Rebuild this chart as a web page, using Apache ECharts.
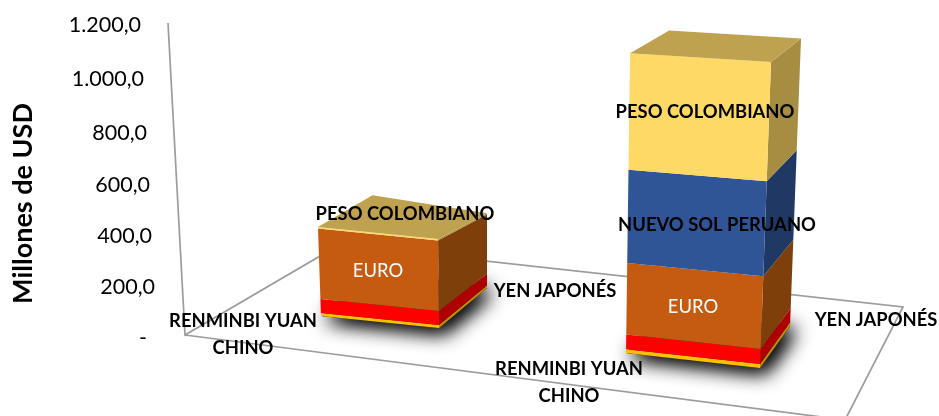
<!DOCTYPE html>
<html><head><meta charset="utf-8">
<style>html,body{margin:0;padding:0;background:#fff}#c{width:939px;height:416px}</style>
<script src="https://cdn.jsdelivr.net/npm/echarts@6/dist/echarts.min.js"></script>
</head><body><div id="c"></div>
<script>
// ---- data ----
const categories = ['Grupo A', 'Grupo B'];
const tickLabels = ['-', '200,0', '400,0', '600,0', '800,0', '1.000,0', '1.200,0'];
const seriesNames = ['RENMINBI YUAN CHINO', 'YEN JAPONÉS', 'EURO', 'NUEVO SOL PERUANO', 'PESO COLOMBIANO'];
const renminbi = [10, 13];
const yen = [47, 50];
const euro = [235, 243];
const nuevoSol = [0, 317];
const peso = [5, 397];

// ---- styling / projection ----
const stacks = [renminbi, yen, euro, nuevoSol, peso];
const frontColors = ['#FFC000', '#FF0000', '#C55A11', '#2F5597', '#FFD966'];
const sideColors = ['#BF9000', '#AE0000', '#7F3F0B', '#1F3864', '#A68D42'];
const topColor = '#BFA24F';
const DEPTH_SCALE = 1.15;
// box corners relative to the category centre and the axis zero
const boxes = [
  { fl: [-58.5, -22, -0.034, 1], fr: [59.5, -10, -0.011, 1], br: [107.5, -50, 0, 0.84], bl: [-3.5, -68, -0.04, 0.84] },
  { fl: [-68.5, 15, 0.0133, 0.98], fr: [65.5, 30, 0.036, 1], br: [95.5, -12, 0.036, 0.94], bl: [-29.5, -26, 0.0133, 0.92] }
];
const labelOffsets = [
  [[-136.5, -3], [175.5, -47], [-1.5, -67], null, [25.5, -124]],
  [[-125.5, 44.5], [181.5, -18], [-1.5, -31], [22.5, -113], [10.5, -226]]
];
const labelFonts = ['bold', 'bold', 'normal', 'bold', 'bold'];
const labelFills = ['#000', '#000', '#fff', '#000', '#000'];
const labelSizes = [18.4, 18.4, 18.4, 18.4, 18.4];
const tickPad = [[0, 8], [2, 0], [5, 3], [7, 5], [7, 8], [4, 11], [0, 14]];

function pt(corner, cx, y0, h) {
  return [cx + corner[0] + corner[2] * h, y0 + corner[1] - corner[3] * h];
}
function makeRender(si) {
  return function (params, api) {
    const cat = api.value(0), val = api.value(1);
    const cx = api.coord([cat, 0])[0], y0 = api.coord([cat, 0])[1];
    let below = 0;
    for (let i = 0; i < si; i++) below += stacks[i][cat];
    const hOf = v => (y0 - api.coord([cat, v])[1]) * DEPTH_SCALE;
    const h0 = hOf(below), h1 = hOf(below + val);
    const b = boxes[cat];
    const children = [];
    const poly = (pts, fill, extra) => children.push({
      type: 'polygon', shape: { points: pts }, style: Object.assign({ fill: fill }, extra || {}), z2: extra && extra.shadowBlur ? 1 : 5 + si
    });
    if (si === 0) {
      const base = [pt(b.fl, cx, y0, 0), pt(b.fr, cx, y0, 0), pt(b.br, cx, y0, 0), pt(b.bl, cx, y0, 0)];
      const shadow = { shadowBlur: 20, shadowColor: 'rgba(0,0,0,0.9)', shadowOffsetX: 5, shadowOffsetY: 4 };
      poly(base, '#333', shadow);
      poly(base, '#333', shadow);
    }
    if (val > 0) {
      poly([pt(b.fr, cx, y0, h0), pt(b.br, cx, y0, h0), pt(b.br, cx, y0, h1), pt(b.fr, cx, y0, h1)], sideColors[si]);
      poly([pt(b.fl, cx, y0, h0), pt(b.fr, cx, y0, h0), pt(b.fr, cx, y0, h1), pt(b.fl, cx, y0, h1)], frontColors[si]);
      if (si === stacks.length - 1) {
        poly([pt(b.fl, cx, y0, h1), pt(b.fr, cx, y0, h1), pt(b.br, cx, y0, h1), pt(b.bl, cx, y0, h1)], topColor);
      }
      const off = labelOffsets[cat][si];
      if (off) {
        const name = seriesNames[si].replace('BI YUAN CHINO', 'BI YUAN\nCHINO');
        children.push({
          type: 'text', z2: 100,
          style: {
            text: name, x: cx + off[0], y: y0 + off[1], align: 'center', verticalAlign: 'middle',
            fill: labelFills[si], lineHeight: 27,
            font: labelFonts[si] + ' ' + labelSizes[si] + 'px Lato'
          }
        });
      }
    }
    return { type: 'group', children: children };
  };
}
const rich = {};
tickPad.forEach((p, i) => { rich['t' + i] = { padding: [p[0], p[1], 0, 0], fontFamily: 'Lato', fontSize: 21.5, color: '#000' }; });

const chart = echarts.init(document.getElementById('c'));
const floorLine = { stroke: '#9c9c9c', lineWidth: 1.7, fill: null };
chart.setOption({
  animation: false,
  backgroundColor: '#fff',
  grid: { left: 222, width: 630, top: 25, height: 313, outerBoundsMode: 'none' },
  xAxis: { type: 'category', data: categories, show: false },
  yAxis: {
    type: 'value', min: 0, max: 1200, interval: 200,
    name: 'Millones de USD', nameLocation: 'middle', nameGap: 185,
    nameTextStyle: { fontFamily: 'Lato', fontWeight: 'bold', fontSize: 27, color: '#000', padding: [0, 44, 0, 0] },
    axisLine: { show: false }, axisTick: { show: false }, splitLine: { show: false },
    axisLabel: {
      margin: 67, align: 'right', rich: rich,
      formatter: (v, i) => '{t' + i + '|' + tickLabels[i] + '}'
    }
  },
  graphic: { elements: [
    { type: 'polyline', z: 0, silent: true, shape: { points: [[168, 23], [185, 335], [339, 245], [903, 307], [845, 420], [185, 335]] }, style: floorLine }
  ] },
  series: stacks.map((arr, si) => ({
    type: 'custom', name: seriesNames[si], coordinateSystem: 'cartesian2d', clip: false,
    renderItem: makeRender(si),
    encode: { x: 0, y: 1 },
    data: arr.map((v, i) => [i, v])
  }))
});
</script></body></html>
